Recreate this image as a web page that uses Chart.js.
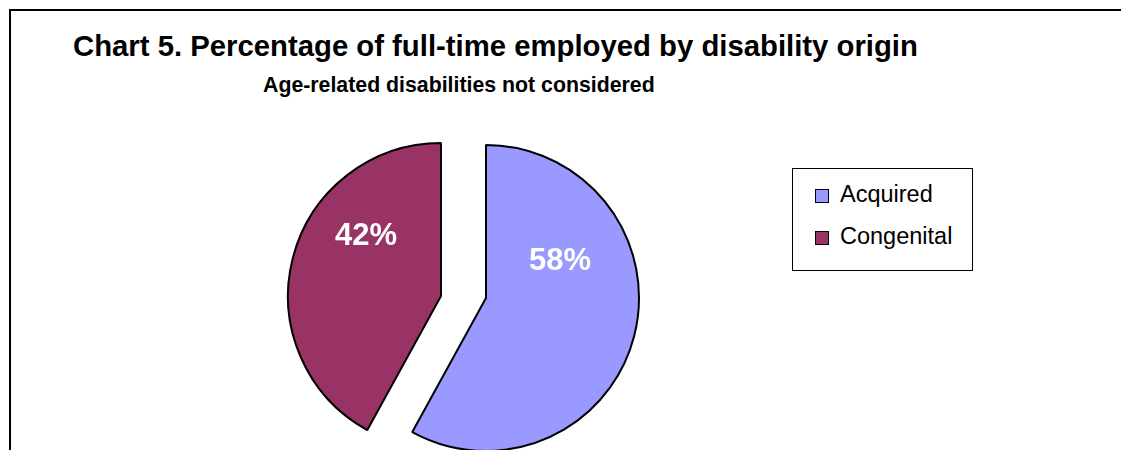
<!DOCTYPE html>
<html>
<head>
<meta charset="utf-8">
<title>Chart 5</title>
<script src="https://cdn.jsdelivr.net/npm/chart.js@4.4.0/dist/chart.umd.min.js"></script>
<style>
  html, body { margin: 0; padding: 0; background: #fff; }
  body { width: 1121px; height: 450px; overflow: hidden; position: relative;
         font-family: "Liberation Sans", Arial, sans-serif; }
  #frame { position: absolute; left: 9px; top: 9px; width: 1300px; height: 700px;
           border: 2px solid #000; box-sizing: border-box; }
  #title { position: absolute; left: 73px; top: 31px; font-size: 29.3px; line-height: 29px;
           font-weight: bold; white-space: nowrap; color: #000; }
  #subtitle { position: absolute; left: 263px; top: 75px; font-size: 21.3px; line-height: 21px;
              font-weight: bold; white-space: nowrap; color: #000; }
  #chartWrap { position: absolute; left: 0; top: 0; width: 1121px; height: 470px; }
  #legend { position: absolute; left: 792px; top: 168px; width: 181px; height: 103px;
            border: 1px solid #000; box-sizing: border-box; background: #fff; }
  .legend-row { position: absolute; left: 22px; height: 23px; font-size: 23.5px; line-height: 23px;
                white-space: nowrap; color: #000; }
  .legend-row span.box { display: inline-block; width: 14px; height: 14px; border: 1px solid #000;
                         box-sizing: border-box; vertical-align: top; margin-top: 6px; margin-right: 11px; }
</style>
</head>
<body>
<div id="frame"></div>
<div id="title">Chart 5. Percentage of full-time employed by disability origin</div>
<div id="subtitle">Age-related disabilities not considered</div>
<div id="chartWrap"><canvas id="pieChart"></canvas></div>
<div id="legend"></div>

<script>
// disability origin shares (%)
const categories = ['Acquired', 'Congenital'];
const shares = [58, 42];
const sliceColors = ['#9999FF', '#993366'];

// build the boxed legend from the same arrays
const legendEl = document.getElementById('legend');
categories.forEach((name, i) => {
    const row = document.createElement('div');
    row.className = 'legend-row';
    row.style.top = (14 + i * 42) + 'px';
    const box = document.createElement('span');
    box.className = 'box';
    box.style.background = sliceColors[i];
    row.appendChild(box);
    row.appendChild(document.createTextNode(name));
    legendEl.appendChild(row);
});

// pull the congenital slice out sideways, the way the original pie is exploded
const explodePlugin = {
    id: 'explodeSlice',
    afterUpdate(chart) {
        const arcs = chart.getDatasetMeta(0).data;
        if (arcs[1]) {
            arcs[1].x -= 45;
            arcs[1].y -= 2;
        }
    }
};

// white percentage labels inside each slice
const labelOffsets = [[74, -37], [-75, -60]];
const pctLabels = {
    id: 'pctLabels',
    afterDatasetsDraw(chart) {
        const ctx = chart.ctx;
        const data = chart.data.datasets[0].data;
        const total = data.reduce((a, b) => a + b, 0);
        ctx.save();
        ctx.font = 'bold 31px "Liberation Sans", Arial, sans-serif';
        ctx.fillStyle = '#fff';
        ctx.textAlign = 'center';
        ctx.textBaseline = 'middle';
        chart.getDatasetMeta(0).data.forEach((arc, i) => {
            const pct = Math.round(data[i] / total * 100) + '%';
            ctx.fillText(pct, arc.x + labelOffsets[i][0], arc.y + labelOffsets[i][1]);
        });
        ctx.restore();
    }
};

new Chart(document.getElementById('pieChart'), {
    type: 'pie',
    data: {
        labels: categories,
        datasets: [{
            data: shares,
            backgroundColor: sliceColors,
            borderColor: '#000',
            borderWidth: 2
        }]
    },
    options: {
        responsive: true,
        maintainAspectRatio: false,
        animation: false,
        radius: 153,
        layout: {
            padding: { left: 333, right: 482, top: 145, bottom: 19 }
        },
        plugins: {
            legend: { display: false },
            title: { display: false },
            tooltip: { enabled: false }
        },
        events: []
    },
    plugins: [explodePlugin, pctLabels]
});
</script>
</body>
</html>
